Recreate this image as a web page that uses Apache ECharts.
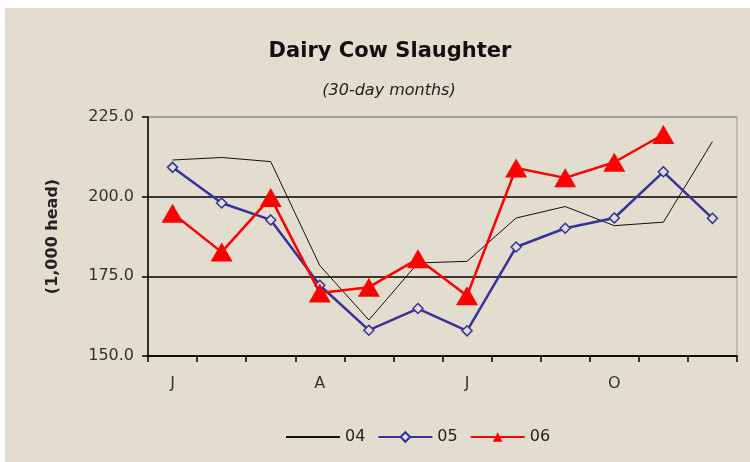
<!DOCTYPE html>
<html>
<head>
<meta charset="utf-8">
<script src="https://cdn.jsdelivr.net/npm/echarts@6/dist/echarts.min.js"></script>
<style>
	html, body { margin: 0; padding: 0; background: #fff; }
	#wrap { position: relative; width: 750px; height: 462px; background: #fff; overflow: hidden; }
	#main { position: absolute; left: 5px; top: 8px; width: 745px; height: 454px; }
</style>
</head>
<body>
<div id="wrap"><div id="main"></div></div>
<script>
var months = ['J', 'F', 'M', 'A', 'M', 'J', 'J', 'A', 'S', 'O', 'N', 'D'];
var yTicks = [150, 175, 200, 225];
var data04 = [211.5, 212.3, 211.0, 178.4, 161.3, 179.2, 179.7, 193.3, 196.9, 190.9, 192.0, 217.3];
var data05 = [209.2, 198.0, 192.7, 172.2, 158.1, 164.9, 157.9, 184.2, 190.1, 193.3, 207.8, 193.2];
var data06 = [194.8, 182.6, 199.7, 169.8, 171.6, 180.5, 168.9, 209.0, 205.9, 210.8, 219.5];

var chart = echarts.init(document.getElementById('main'));
var fontFam = 'DejaVu Sans';

var option = {
	backgroundColor: '#E2DDCF',
	animation: false,
	title: [{
		text: 'Dairy Cow Slaughter',
		left: 380,
		top: 28,
		textAlign: 'center',
		textStyle: { fontFamily: fontFam, fontSize: 21, fontWeight: 'bold', color: '#111' }
	}, {
		text: '(30-day months)',
		left: 379,
		top: 70,
		textAlign: 'center',
		textStyle: { fontFamily: fontFam, fontSize: 16, fontStyle: 'italic', fontWeight: 'normal', color: '#222' }
	}],
	legend: {
		left: 275,
		top: 416,
		itemWidth: 54,
		itemHeight: 12,
		itemGap: 12,
		textStyle: { fontFamily: fontFam, fontSize: 16, color: '#222' },
		data: [
			{ name: '04', itemStyle: { opacity: 0 } },
			{ name: '05' },
			{ name: '06' }
		]
	},
	grid: {
		left: 143,
		top: 109,
		right: 13,
		bottom: 106,
		show: true,
		borderColor: '#999',
		borderWidth: 1,
		backgroundColor: 'transparent'
	},
	xAxis: {
		type: 'category',
		data: months,
		boundaryGap: true,
		axisLine: { lineStyle: { color: '#000', width: 1.5 } },
		axisTick: { show: true, interval: 0, length: 6, lineStyle: { color: '#000', width: 1.5 } },
		axisLabel: {
			interval: 2,
			margin: 20,
			fontFamily: fontFam,
			fontSize: 16,
			color: '#333'
		},
		splitLine: { show: false }
	},
	yAxis: {
		type: 'value',
		min: yTicks[0],
		max: yTicks[yTicks.length - 1],
		interval: 25,
		name: '(1,000 head)',
		nameLocation: 'middle',
		nameRotate: 90,
		nameGap: 87,
		nameTextStyle: { fontFamily: fontFam, fontSize: 16, fontWeight: 'bold', color: '#222' },
		axisLine: { show: true, lineStyle: { color: '#000', width: 1.5 } },
		axisTick: { show: true, length: 6, lineStyle: { color: '#000', width: 1.5 } },
		axisLabel: {
			margin: 14,
			fontFamily: fontFam,
			fontSize: 16,
			color: '#333',
			formatter: function(v) { return v.toFixed(1); }
		},
		splitLine: {
			show: true,
			lineStyle: { color: ['#000', '#000', '#000', '#999'], width: 1.5 }
		}
	},
	series: [{
		name: '04',
		type: 'line',
		data: data04,
		symbol: 'none',
		itemStyle: { color: '#111' },
		lineStyle: { color: '#111', width: 1 },
		z: 2
	}, {
		name: '05',
		type: 'line',
		data: data05,
		symbol: 'diamond',
		symbolSize: 10,
		itemStyle: { color: '#E2DDCF', borderColor: '#333399', borderWidth: 1.5 },
		lineStyle: { color: '#333399', width: 2.5 },
		z: 3
	}, {
		name: '06',
		type: 'line',
		data: data06,
		symbol: 'triangle',
		symbolSize: [22, 19],
		itemStyle: { color: '#ff0000' },
		lineStyle: { color: '#ff0000', width: 2.5 },
		z: 4
	}]
};

chart.setOption(option);
</script>
</body>
</html>
